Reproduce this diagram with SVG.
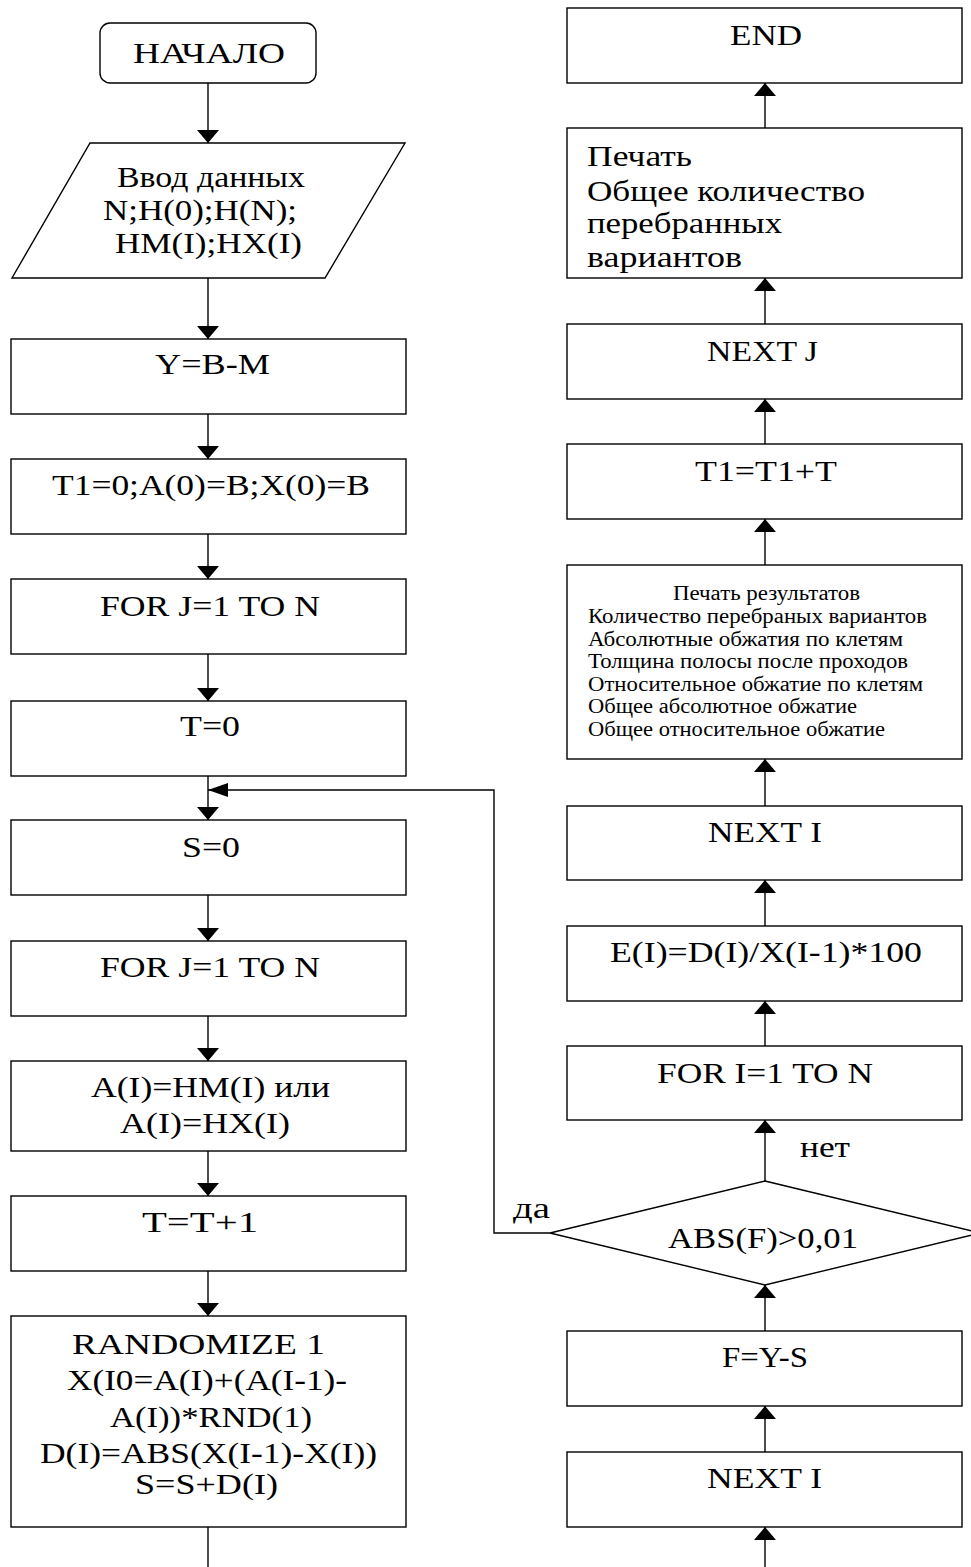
<svg xmlns="http://www.w3.org/2000/svg" width="971" height="1567" viewBox="0 0 971 1567">
  <style>
    .shape { fill: #fff; stroke: #000; stroke-width: 1.4; }
    .link { fill: none; stroke: #000; stroke-width: 1.4; }
    text { font-family: "Liberation Serif", "Times New Roman", serif; font-size: 30px; fill: #000; }
    .small { font-size: 20px; }
  </style>
  <defs>
    <marker id="arrow" viewBox="0 0 13 22" refX="13" refY="11" markerWidth="13" markerHeight="22" markerUnits="userSpaceOnUse" orient="auto">
      <path d="M0,0 L13,11 L0,22 Z" fill="#000"/>
    </marker>
    <marker id="arrowSide" viewBox="0 0 20 14" refX="20" refY="7" markerWidth="20" markerHeight="14" markerUnits="userSpaceOnUse" orient="auto">
      <path d="M0,0 L20,7 L0,14 Z" fill="#000"/>
    </marker>
  </defs>
  <rect width="971" height="1567" fill="#fff"/>

  <!-- connectors -->
  <g id="connectors">
    <!-- left column, flowing down -->
    <path class="link" d="M208,83 V143" marker-end="url(#arrow)"/>
    <path class="link" d="M208,278 V339" marker-end="url(#arrow)"/>
    <path class="link" d="M208,414 V459" marker-end="url(#arrow)"/>
    <path class="link" d="M208,534 V579" marker-end="url(#arrow)"/>
    <path class="link" d="M208,654 V701" marker-end="url(#arrow)"/>
    <path class="link" d="M208,776 V820" marker-end="url(#arrow)"/>
    <path class="link" d="M208,895 V941" marker-end="url(#arrow)"/>
    <path class="link" d="M208,1016 V1061" marker-end="url(#arrow)"/>
    <path class="link" d="M208,1151 V1196" marker-end="url(#arrow)"/>
    <path class="link" d="M208,1271 V1316" marker-end="url(#arrow)"/>
    <path class="link" d="M208,1527 V1567"/>
    <!-- right column, flowing up -->
    <path class="link" d="M765,1567 V1527" marker-end="url(#arrow)"/>
    <path class="link" d="M765,1452 V1406" marker-end="url(#arrow)"/>
    <path class="link" d="M765,1331 V1285" marker-end="url(#arrow)"/>
    <path class="link" d="M765,1181 V1120" marker-end="url(#arrow)"/>
    <path class="link" d="M765,1046 V1001" marker-end="url(#arrow)"/>
    <path class="link" d="M765,926 V880" marker-end="url(#arrow)"/>
    <path class="link" d="M765,806 V759" marker-end="url(#arrow)"/>
    <path class="link" d="M765,565 V519" marker-end="url(#arrow)"/>
    <path class="link" d="M765,444 V399" marker-end="url(#arrow)"/>
    <path class="link" d="M765,324 V278" marker-end="url(#arrow)"/>
    <path class="link" d="M765,128 V83" marker-end="url(#arrow)"/>
    <!-- "yes" branch back to the loop start -->
    <path class="link" d="M550,1233 H494 V790 H208" marker-end="url(#arrowSide)"/>
    <text x="513" y="1218" textLength="37" lengthAdjust="spacingAndGlyphs">да</text>
    <text x="800" y="1157" textLength="50" lengthAdjust="spacingAndGlyphs">нет</text>
  </g>

  <!-- left column -->
  <g id="start">
    <rect class="shape" x="100" y="23" width="216" height="60" rx="10"/>
    <text x="133" y="63" textLength="152" lengthAdjust="spacingAndGlyphs">НАЧАЛО</text>
  </g>
  <g id="input">
    <polygon class="shape" points="90,143 405,143 325,278 12,278"/>
    <text x="117" y="187" textLength="188" lengthAdjust="spacingAndGlyphs">Ввод данных</text>
    <text x="103" y="220" textLength="194" lengthAdjust="spacingAndGlyphs">N;H(0);H(N);</text>
    <text x="115" y="253" textLength="187" lengthAdjust="spacingAndGlyphs">HM(I);HX(I)</text>
  </g>
  <g id="y-init">
    <rect class="shape" x="11" y="339" width="395" height="75"/>
    <text x="155" y="374" textLength="115" lengthAdjust="spacingAndGlyphs">Y=B-M</text>
  </g>
  <g id="t1-init">
    <rect class="shape" x="11" y="459" width="395" height="75"/>
    <text x="52" y="495" textLength="318" lengthAdjust="spacingAndGlyphs">T1=0;A(0)=B;X(0)=B</text>
  </g>
  <g id="for-j">
    <rect class="shape" x="11" y="579" width="395" height="75"/>
    <text x="100" y="616" textLength="220" lengthAdjust="spacingAndGlyphs">FOR J=1 TO N</text>
  </g>
  <g id="t-init">
    <rect class="shape" x="11" y="701" width="395" height="75"/>
    <text x="180" y="736" textLength="60" lengthAdjust="spacingAndGlyphs">T=0</text>
  </g>
  <g id="s-init">
    <rect class="shape" x="11" y="820" width="395" height="75"/>
    <text x="182" y="857" textLength="58" lengthAdjust="spacingAndGlyphs">S=0</text>
  </g>
  <g id="for-j-inner">
    <rect class="shape" x="11" y="941" width="395" height="75"/>
    <text x="100" y="977" textLength="220" lengthAdjust="spacingAndGlyphs">FOR J=1 TO N</text>
  </g>
  <g id="choose-a">
    <rect class="shape" x="11" y="1061" width="395" height="90"/>
    <text x="91" y="1097" textLength="239" lengthAdjust="spacingAndGlyphs">A(I)=HM(I) или</text>
    <text x="120" y="1133" textLength="170" lengthAdjust="spacingAndGlyphs">A(I)=HX(I)</text>
  </g>
  <g id="t-inc">
    <rect class="shape" x="11" y="1196" width="395" height="75"/>
    <text x="142" y="1232" textLength="116" lengthAdjust="spacingAndGlyphs">T=T+1</text>
  </g>
  <g id="randomize">
    <rect class="shape" x="11" y="1316" width="395" height="211"/>
    <text x="72" y="1354" textLength="253" lengthAdjust="spacingAndGlyphs">RANDOMIZE 1</text>
    <text x="67" y="1390" textLength="280" lengthAdjust="spacingAndGlyphs">X(I0=A(I)+(A(I-1)-</text>
    <text x="110" y="1427" textLength="202" lengthAdjust="spacingAndGlyphs">A(I))*RND(1)</text>
    <text x="40" y="1463" textLength="337" lengthAdjust="spacingAndGlyphs">D(I)=ABS(X(I-1)-X(I))</text>
    <text x="135" y="1494" textLength="143" lengthAdjust="spacingAndGlyphs">S=S+D(I)</text>
  </g>

  <!-- right column -->
  <g id="end">
    <rect class="shape" x="567" y="8" width="395" height="75"/>
    <text x="730" y="45" textLength="72" lengthAdjust="spacingAndGlyphs">END</text>
  </g>
  <g id="print-total">
    <rect class="shape" x="567" y="128" width="395" height="150"/>
    <text x="587" y="166" textLength="105" lengthAdjust="spacingAndGlyphs">Печать</text>
    <text x="587" y="201" textLength="278" lengthAdjust="spacingAndGlyphs">Общее количество</text>
    <text x="587" y="233" textLength="195" lengthAdjust="spacingAndGlyphs">перебранных</text>
    <text x="587" y="267" textLength="155" lengthAdjust="spacingAndGlyphs">вариантов</text>
  </g>
  <g id="next-j">
    <rect class="shape" x="567" y="324" width="395" height="75"/>
    <text x="707" y="361" textLength="111" lengthAdjust="spacingAndGlyphs">NEXT J</text>
  </g>
  <g id="t1-sum">
    <rect class="shape" x="567" y="444" width="395" height="75"/>
    <text x="695" y="481" textLength="142" lengthAdjust="spacingAndGlyphs">T1=T1+T</text>
  </g>
  <g id="print-results">
    <rect class="shape" x="567" y="565" width="395" height="194"/>
    <text class="small" x="673" y="600" textLength="187" lengthAdjust="spacingAndGlyphs">Печать результатов</text>
    <text class="small" x="588" y="623" textLength="339" lengthAdjust="spacingAndGlyphs">Количество перебраных вариантов</text>
    <text class="small" x="588" y="646" textLength="315" lengthAdjust="spacingAndGlyphs">Абсолютные обжатия по клетям</text>
    <text class="small" x="588" y="668" textLength="320" lengthAdjust="spacingAndGlyphs">Толщина полосы после проходов</text>
    <text class="small" x="588" y="691" textLength="335" lengthAdjust="spacingAndGlyphs">Относительное обжатие по клетям</text>
    <text class="small" x="588" y="713" textLength="269" lengthAdjust="spacingAndGlyphs">Общее абсолютное обжатие</text>
    <text class="small" x="588" y="736" textLength="297" lengthAdjust="spacingAndGlyphs">Общее относительное обжатие</text>
  </g>
  <g id="next-i-outer">
    <rect class="shape" x="567" y="806" width="395" height="74"/>
    <text x="708" y="842" textLength="114" lengthAdjust="spacingAndGlyphs">NEXT I</text>
  </g>
  <g id="e-calc">
    <rect class="shape" x="567" y="926" width="395" height="75"/>
    <text x="610" y="962" textLength="312" lengthAdjust="spacingAndGlyphs">E(I)=D(I)/X(I-1)*100</text>
  </g>
  <g id="for-i">
    <rect class="shape" x="567" y="1046" width="395" height="74"/>
    <text x="657" y="1083" textLength="216" lengthAdjust="spacingAndGlyphs">FOR I=1 TO N</text>
  </g>
  <g id="check">
    <polygon class="shape" points="765,1181 980,1233 765,1285 550,1233"/>
    <text x="668" y="1248" textLength="190" lengthAdjust="spacingAndGlyphs">ABS(F)&gt;0,01</text>
  </g>
  <g id="f-calc">
    <rect class="shape" x="567" y="1331" width="395" height="75"/>
    <text x="722" y="1367" textLength="86" lengthAdjust="spacingAndGlyphs">F=Y-S</text>
  </g>
  <g id="next-i-inner">
    <rect class="shape" x="567" y="1452" width="395" height="75"/>
    <text x="707" y="1488" textLength="115" lengthAdjust="spacingAndGlyphs">NEXT I</text>
  </g>
</svg>
